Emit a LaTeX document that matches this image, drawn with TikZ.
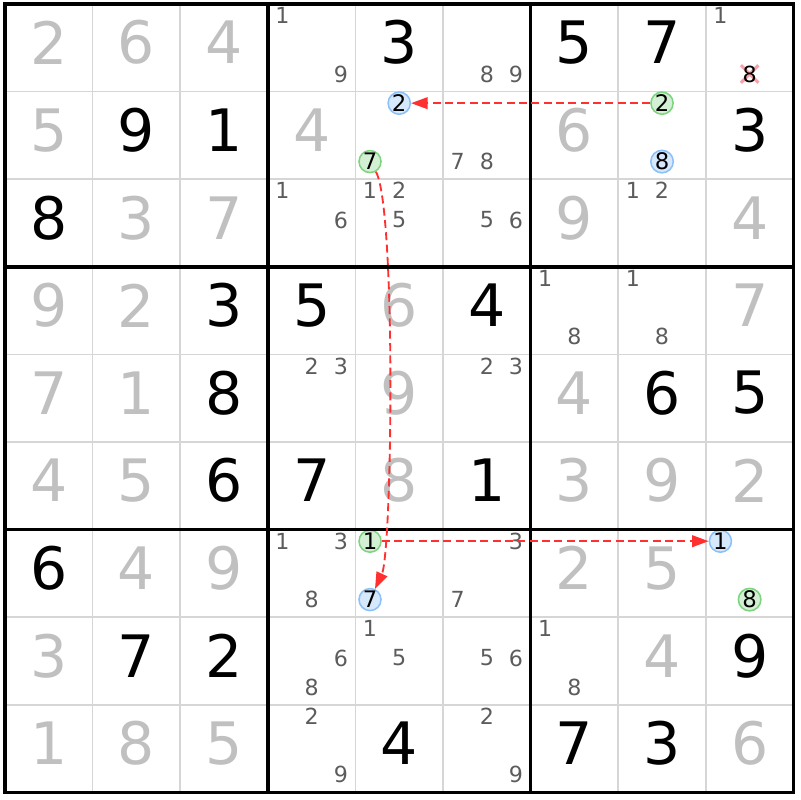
\documentclass[tikz,border=0pt]{standalone}
\usepackage{fontspec}
\setmainfont{DejaVu Sans}
\usetikzlibrary{arrows.meta}
\definecolor{placedgray}{RGB}{192,192,192}
\definecolor{pencilgray}{RGB}{92,92,92}
\definecolor{gridgray}{RGB}{214,214,214}
\definecolor{onblue}{RGB}{214,232,252}
\definecolor{onbluedraw}{RGB}{140,192,248}
\definecolor{ongreen}{RGB}{212,240,212}
\definecolor{ongreendraw}{RGB}{126,212,126}
\definecolor{linkred}{RGB}{255,48,48}
\definecolor{strikepink}{RGB}{250,160,170}

\tikzset{
  big/.style={font=\fontsize{19}{19}\selectfont, inner sep=0pt},
  given/.style={big, text=black},
  placed/.style={big, text=placedgray},
  cand/.style={font=\fontsize{7.2}{7.2}\selectfont, text=pencilgray, inner sep=0pt},
  struck/.style={cand, text=black},
  oncand/.style={circle, minimum size=0.25cm, inner sep=0pt, line width=0.5pt,
    font=\fontsize{7.4}{7.4}\selectfont, text=black},
  blueon/.style={oncand, fill=onblue, draw=onbluedraw},
  greenon/.style={oncand, fill=ongreen, draw=ongreendraw},
  cellline/.style={gridgray, line width=0.55pt},
  boxline/.style={black, line width=1.1pt},
  strike/.style={strikepink, line width=1pt},
  link/.style={linkred, line width=0.6pt, dash pattern=on 2.6pt off 1.4pt,
    -{Triangle[length=5.4pt,width=3.8pt]}}
}

% big digits of one row: col/digit/style
\newcommand{\solvedrow}[2]{%
  \foreach \c/\d/\s in {#2}
    \node[\s] (s#1\c) at (\c+0.5,#1+0.44) {\d};}
% pencil marks of one cell: [style]{row}{col}{list}
\newcommand{\pencil}[4][cand]{%
  \foreach \n in {#4}{%
    \pgfmathsetmacro{\px}{#3+(mod(\n-1,3)+0.5)/3}%
    \pgfmathsetmacro{\py}{#2+(int((\n-1)/3)+0.5)/3-0.035}%
    \node[#1] (p#2#3\n) at (\px,\py) {\n};}}

\begin{document}
\begin{tikzpicture}[x=1cm,y=-1cm]
  \useasboundingbox (-0.057,-0.046) rectangle (9.075,9.086);
  % Thin cell lines
  \foreach \i in {1,...,8}
    \draw[cellline] (\i,0) -- (\i,9) (0,\i) -- (9,\i);

  % Row 1
  \solvedrow{0}{0/2/placed,1/6/placed,2/4/placed,4/3/given,6/5/given,7/7/given}
  \pencil{0}{3}{1,9}
  \pencil{0}{5}{8,9}
  \draw[strike] (8.5,0.798) +(-0.1,-0.1) -- +(0.1,0.1) +(-0.1,0.1) -- +(0.1,-0.1);
  \pencil{0}{8}{1}
  \pencil[struck]{0}{8}{8}
  % Row 2
  \solvedrow{1}{0/5/placed,1/9/given,2/1/given,3/4/placed,6/6/placed,8/3/given}
  \pencil[blueon]{1}{4}{2}
  \pencil[greenon]{1}{4}{7}
  \pencil{1}{5}{7,8}
  \pencil[greenon]{1}{7}{2}
  \pencil[blueon]{1}{7}{8}
  % Row 3
  \solvedrow{2}{0/8/given,1/3/placed,2/7/placed,6/9/placed,8/4/placed}
  \pencil{2}{3}{1,6}
  \pencil{2}{4}{1,2,5}
  \pencil{2}{5}{5,6}
  \pencil{2}{7}{1,2}
  % Row 4
  \solvedrow{3}{0/9/placed,1/2/placed,2/3/given,3/5/given,4/6/placed,5/4/given,8/7/placed}
  \pencil{3}{6}{1,8}
  \pencil{3}{7}{1,8}
  % Row 5
  \solvedrow{4}{0/7/placed,1/1/placed,2/8/given,4/9/placed,6/4/placed,7/6/given,8/5/given}
  \pencil{4}{3}{2,3}
  \pencil{4}{5}{2,3}
  % Row 6
  \solvedrow{5}{0/4/placed,1/5/placed,2/6/given,3/7/given,4/8/placed,5/1/given,6/3/placed,7/9/placed,8/2/placed}
  % Row 7
  \solvedrow{6}{0/6/given,1/4/placed,2/9/placed,6/2/placed,7/5/placed}
  \pencil{6}{3}{1,3,8}
  \pencil[greenon]{6}{4}{1}
  \pencil[blueon]{6}{4}{7}
  \pencil{6}{5}{3,7}
  \pencil[blueon]{6}{8}{1}
  \pencil[greenon]{6}{8}{8}
  % Row 8
  \solvedrow{7}{0/3/placed,1/7/given,2/2/given,7/4/placed,8/9/given}
  \pencil{7}{3}{6,8}
  \pencil{7}{4}{1,5}
  \pencil{7}{5}{5,6}
  \pencil{7}{6}{1,8}
  % Row 9
  \solvedrow{8}{0/1/placed,1/8/placed,2/5/placed,4/4/given,6/7/given,7/3/given,8/6/placed}
  \pencil{8}{3}{2,9}
  \pencil{8}{5}{2,9}

  % Box lines
  \draw[boxline] (3,0) -- (3,9) (6,0) -- (6,9) (0,3) -- (9,3) (0,6) -- (9,6);
  \draw[boxline] (0,0) rectangle (9,9);

  % Links
  \draw[link] (p172) -- (p142);
  \draw[link] (p147) .. controls +(60:0.6) and +(-65:0.6) .. (p647);
  \draw[link] (p641) -- (p681);
\end{tikzpicture}
\end{document}
